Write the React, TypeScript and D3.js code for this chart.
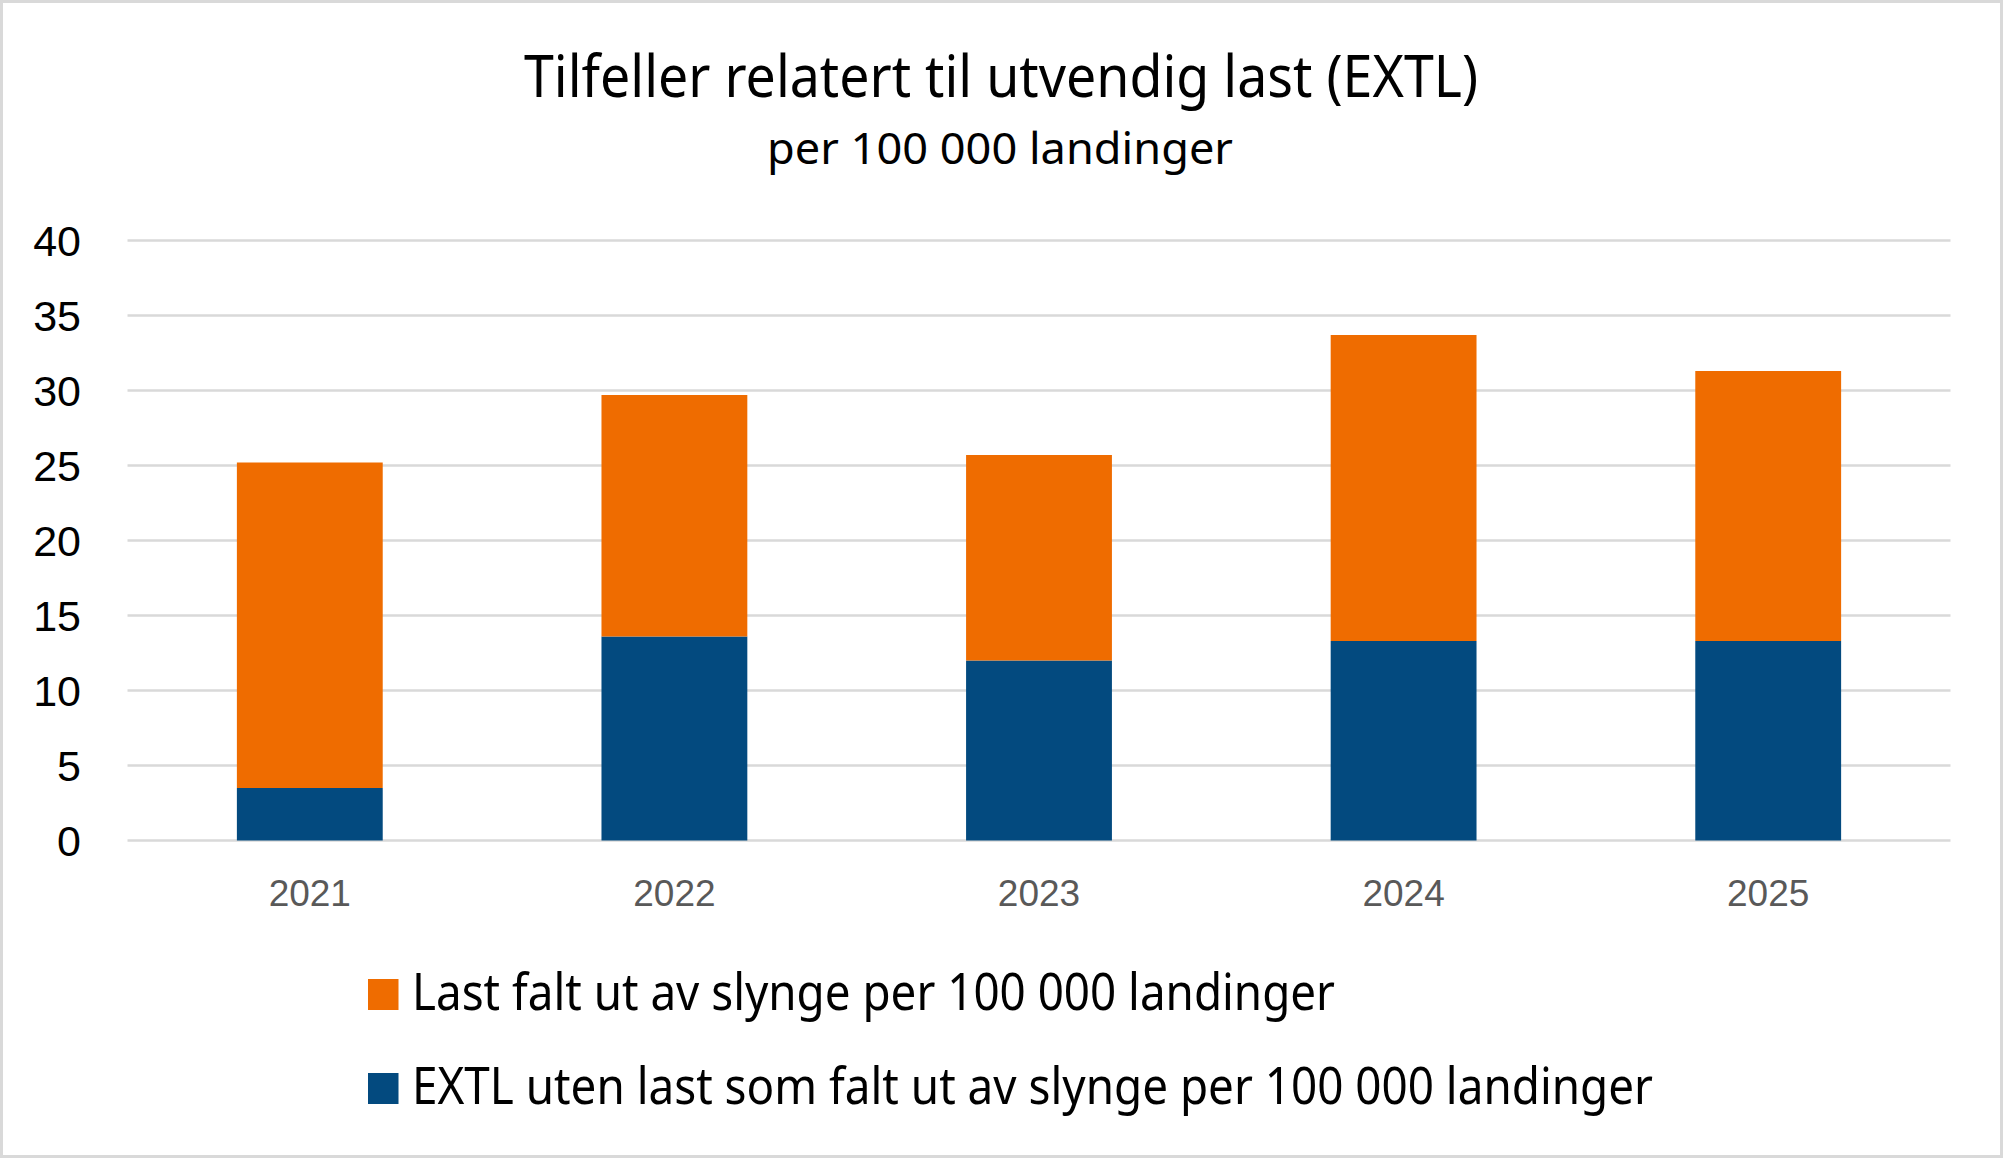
import { useRef, useEffect } from "react";
import * as d3 from "d3";

const years = ["2021", "2022", "2023", "2024", "2025"];
// EXTL uten last som falt ut av slynge (bottom segment)
const extlOther = [3.5, 13.6, 12.0, 13.3, 13.3];
// Last falt ut av slynge (top segment)
const loadDropped = [21.7, 16.1, 13.7, 20.4, 18.0];
const yTicks = [0, 5, 10, 15, 20, 25, 30, 35, 40];

const seriesNames = [
  "Last falt ut av slynge per 100 000 landinger",
  "EXTL uten last som falt ut av slynge per 100 000 landinger",
];
const title = "Tilfeller relatert til utvendig last (EXTL)";
const subtitle = "per 100 000 landinger";

const ORANGE = "#EF6C00";
const BLUE = "#034A7F";

export default function App() {
  const svgRef = useRef<SVGSVGElement>(null);

  useEffect(() => {
    if (!svgRef.current) return;
    const svg = d3.select(svgRef.current);
    svg.selectAll("*").remove();

    const width = 2003;
    const height = 1158;
    const plot = { left: 127.5, right: 1950.5, top: 240.5, bottom: 840.5 };

    svg.attr("viewBox", `0 0 ${width} ${height}`);

    svg
      .append("rect")
      .attr("x", 0)
      .attr("y", 0)
      .attr("width", width)
      .attr("height", height)
      .attr("fill", "#ffffff");

    // Outer chart border
    svg
      .append("rect")
      .attr("x", 1.5)
      .attr("y", 1.5)
      .attr("width", width - 3)
      .attr("height", height - 3)
      .attr("fill", "none")
      .attr("stroke", "#D9D9D9")
      .attr("stroke-width", 3);

    const x = d3
      .scaleBand<string>()
      .domain(years)
      .range([plot.left, plot.right])
      .paddingInner(0.6)
      .paddingOuter(0.3);

    const y = d3.scaleLinear().domain([0, 40]).range([plot.bottom, plot.top]);

    // Grid lines
    svg
      .append("g")
      .selectAll("line")
      .data(yTicks)
      .join("line")
      .attr("x1", plot.left)
      .attr("x2", plot.right)
      .attr("y1", (d) => y(d))
      .attr("y2", (d) => y(d))
      .attr("stroke", "#D9D9D9")
      .attr("stroke-width", 2.5);

    // Y tick labels
    svg
      .append("g")
      .selectAll("text")
      .data(yTicks)
      .join("text")
      .attr("x", 81)
      .attr("y", (d) => y(d))
      .attr("dy", "0.36em")
      .attr("text-anchor", "end")
      .attr("font-family", "'Liberation Sans', Arial, sans-serif")
      .attr("font-size", "43px")
      .attr("fill", "#000000")
      .text((d) => String(d));

    // Stacked bars
    const rows = years.map((yr, i) => ({
      year: yr,
      other: extlOther[i],
      dropped: loadDropped[i],
    }));
    const stack = d3.stack<(typeof rows)[number]>().keys(["other", "dropped"]);
    const layers = stack(rows);
    const colors: Record<string, string> = { other: BLUE, dropped: ORANGE };

    svg
      .append("g")
      .selectAll("g")
      .data(layers)
      .join("g")
      .attr("fill", (d) => colors[d.key])
      .selectAll("rect")
      .data((d) => d)
      .join("rect")
      .attr("x", (d) => x(d.data.year)!)
      .attr("width", x.bandwidth())
      .attr("y", (d) => y(d[1]))
      .attr("height", (d) => y(d[0]) - y(d[1]));

    // X tick labels
    svg
      .append("g")
      .selectAll("text")
      .data(years)
      .join("text")
      .attr("x", (d) => x(d)! + x.bandwidth() / 2)
      .attr("y", 906)
      .attr("text-anchor", "middle")
      .attr("font-family", "'Liberation Sans', Arial, sans-serif")
      .attr("font-size", "37px")
      .attr("fill", "#595959")
      .text((d) => d);

    // Title and subtitle
    svg
      .append("text")
      .attr("x", 524)
      .attr("y", 97)
      .attr("font-family", "'Noto Sans', sans-serif")
      .attr("font-size", "58px")
      .attr("fill", "#000000")
      .attr("textLength", 954)
      .attr("lengthAdjust", "spacingAndGlyphs")
      .text(title);

    svg
      .append("text")
      .attr("x", 767)
      .attr("y", 164)
      .attr("font-family", "'Noto Sans', sans-serif")
      .attr("font-size", "44px")
      .attr("fill", "#000000")
      .attr("textLength", 466)
      .attr("lengthAdjust", "spacingAndGlyphs")
      .text(subtitle);

    // Legend
    const legend = [
      { name: seriesNames[0], color: ORANGE, top: 979, width: 923 },
      { name: seriesNames[1], color: BLUE, top: 1073, width: 1241 },
    ];
    const lg = svg.append("g").selectAll("g").data(legend).join("g");
    lg.append("rect")
      .attr("x", 368)
      .attr("y", (d) => d.top)
      .attr("width", 30.5)
      .attr("height", 31)
      .attr("fill", (d) => d.color);
    lg.append("text")
      .attr("x", 412)
      .attr("y", (d) => d.top + 31)
      .attr("font-family", "'Noto Sans', sans-serif")
      .attr("font-size", "51px")
      .attr("fill", "#000000")
      .attr("textLength", (d) => d.width)
      .attr("lengthAdjust", "spacingAndGlyphs")
      .text((d) => d.name);
  }, []);

  return (
    <svg
      ref={svgRef}
      width={2003}
      height={1158}
      style={{ position: "absolute", left: 0, top: 0, display: "block" }}
    />
  );
}
